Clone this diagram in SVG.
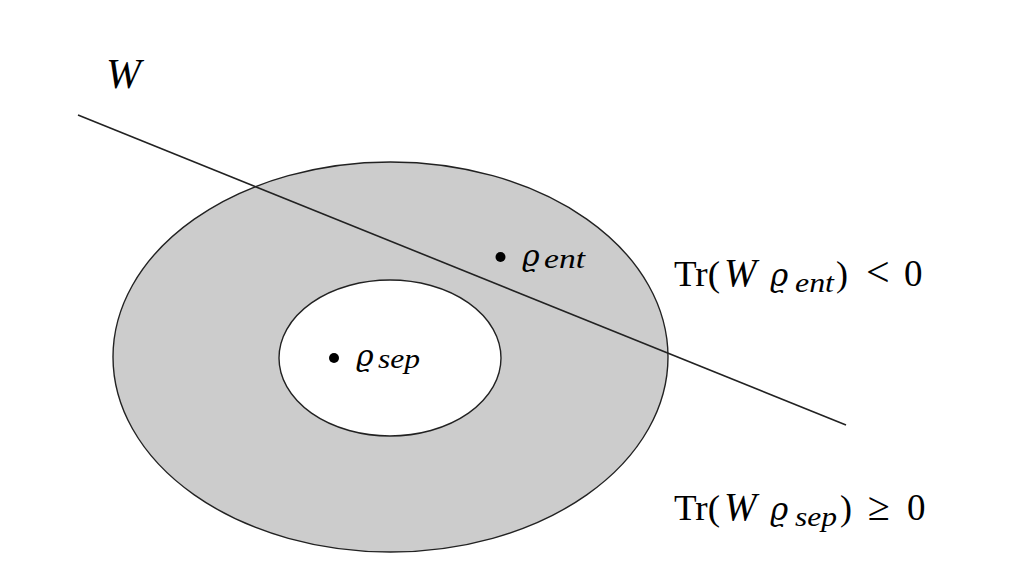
<svg xmlns="http://www.w3.org/2000/svg" width="1036" height="586" viewBox="0 0 1036 586">
<style>
.t{font-family:"Liberation Serif","DejaVu Serif",serif;fill:#000}
.i{font-style:italic}
.r{font-family:"DejaVu Serif",serif;font-style:italic}
.sh{fill:#cccccc;stroke:#222;stroke-width:1.4}
.hole{fill:#fff;stroke:#222;stroke-width:1.4}
.ln{stroke:#222;stroke-width:1.6;fill:none}
</style>
<rect width="1036" height="586" fill="#fff"/>
<g id="outer"><ellipse class="sh" cx="390.5" cy="357" rx="277.5" ry="195"/></g>
<g id="inner"><ellipse class="hole" cx="390" cy="358" rx="111" ry="78"/></g>
<g id="connectors"><line class="ln" x1="78" y1="115" x2="846" y2="425"/></g>
<g id="W"><text class="t i" x="106" y="88" font-size="42">W</text></g>
<g id="rho-ent"><circle cx="500.5" cy="257" r="5"/>
<text class="t r" x="522" y="266" font-size="30">ϱ</text>
<text class="t i" x="544" y="268" font-size="28" textLength="41" lengthAdjust="spacingAndGlyphs">ent</text></g>
<g id="rho-sep"><circle cx="334" cy="358" r="5"/>
<text class="t r" x="356" y="366" font-size="30">ϱ</text>
<text class="t i" x="378" y="368" font-size="28" textLength="42" lengthAdjust="spacingAndGlyphs">sep</text></g>
<g id="cond-ent">
<text class="t" x="674" y="286" font-size="36" textLength="46" lengthAdjust="spacingAndGlyphs">Tr(</text>
<text class="t i" x="724" y="286" font-size="39">W</text>
<text class="t r" x="770" y="286" font-size="31">ϱ</text>
<text class="t i" x="795" y="292" font-size="27" textLength="39" lengthAdjust="spacingAndGlyphs">ent</text>
<text class="t" x="836" y="286" font-size="36">)</text>
<text class="t" x="866" y="286" font-size="42">&lt;</text>
<text class="t" x="904" y="286" font-size="37">0</text>
</g>
<g id="cond-sep">
<text class="t" x="674" y="520" font-size="36" textLength="46" lengthAdjust="spacingAndGlyphs">Tr(</text>
<text class="t i" x="724" y="520" font-size="39">W</text>
<text class="t r" x="770" y="520" font-size="31">ϱ</text>
<text class="t i" x="795" y="526" font-size="27" textLength="42" lengthAdjust="spacingAndGlyphs">sep</text>
<text class="t" x="840" y="520" font-size="36">)</text>
<text class="t" x="868" y="520" font-size="40">≥</text>
<text class="t" x="907" y="520" font-size="37">0</text>
</g>
</svg>
